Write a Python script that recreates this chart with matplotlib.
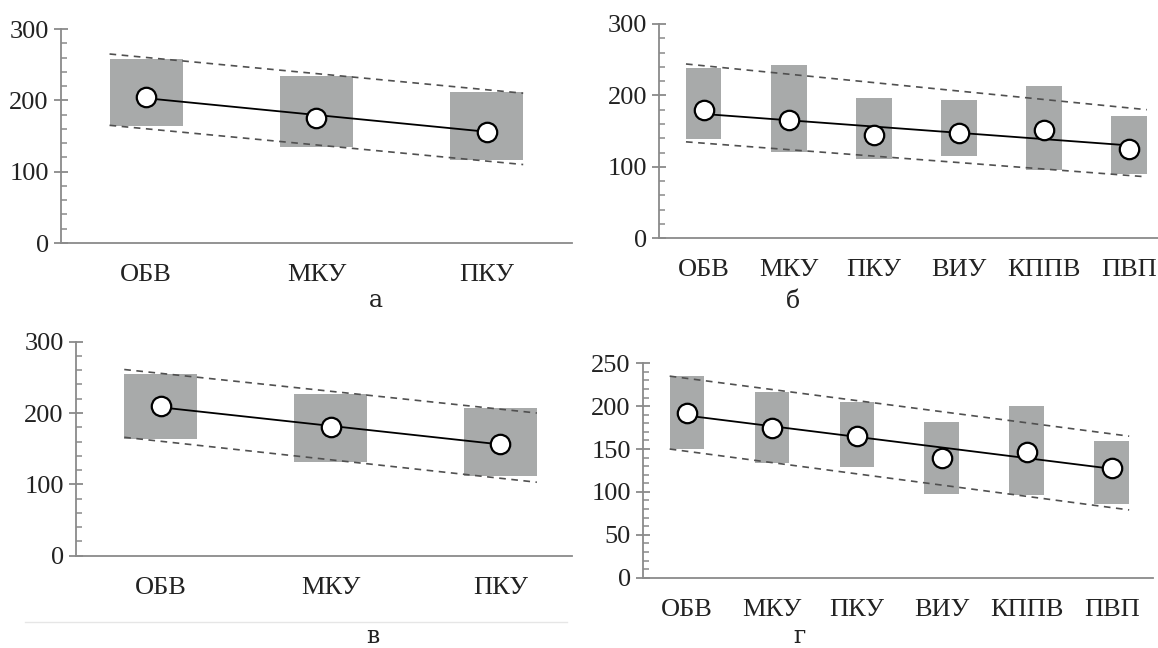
import numpy as np
import matplotlib
matplotlib.use("Agg")
import matplotlib.pyplot as plt
from matplotlib.ticker import MultipleLocator

# categories
cats3 = ["ОБВ", "МКУ", "ПКУ"]
cats6 = ["ОБВ", "МКУ", "ПКУ", "ВИУ", "КППВ", "ПВП"]

# panel а
mean_a = [205, 175, 156]
top_a = [258, 234, 212]
bot_a = [164, 134, 117]
trend_a = [203, 156]
upper_a = [265, 210]
lower_a = [165, 110]

# panel б
mean_b = [180, 166, 144, 147, 151, 125]
top_b = [238, 242, 197, 193, 213, 171]
bot_b = [139, 121, 111, 115, 96, 90]
trend_b = [174, 130]
upper_b = [244, 180]
lower_b = [135, 86]

# panel в
mean_c = [210, 180, 156]
top_c = [255, 227, 207]
bot_c = [164, 131, 112]
trend_c = [208, 156]
upper_c = [261, 200]
lower_c = [166, 103]

# panel г
mean_d = [192.5, 174, 165, 139, 147, 127.5]
top_d = [235, 217, 205, 182, 200, 159]
bot_d = [150.5, 134, 129, 98, 96.5, 86]
trend_d = [189, 127]
upper_d = [235, 165]
lower_d = [150, 79]

BOX = '#a8aaaa'
AXC = '#8a8a8a'
SERIF = ['Liberation Serif', 'DejaVu Serif']


def panel(rect, cats, mean, top, bot, trend, upper, lower, width, xlim, ylim, major, minor):
    ax = fig.add_axes(rect)
    x = np.arange(len(cats))
    heights = np.array(top) - np.array(bot)
    ax.bar(x, heights, bottom=bot, width=width, color=BOX, zorder=1)
    xe = [x[0] - width / 2, x[-1] + width / 2]
    ax.plot(xe, upper, color='#505050', lw=1.2, ls=(0, (4, 3.3)), zorder=2)
    ax.plot(xe, lower, color='#505050', lw=1.2, ls=(0, (4, 3.3)), zorder=2)
    ax.plot([x[0], x[-1]], trend, color='black', lw=1.3, zorder=3)
    ax.plot(x, mean, 'o', mfc='white', mec='black', ms=14, mew=1.6, zorder=4)

    ax.set_xlim(*xlim)
    ax.set_ylim(*ylim)
    ax.set_xticks(x)
    ax.set_xticklabels(cats)
    ax.yaxis.set_major_locator(MultipleLocator(major))
    ax.yaxis.set_minor_locator(MultipleLocator(minor))
    for s in ['top', 'right']:
        ax.spines[s].set_visible(False)
    for s in ['left', 'bottom']:
        ax.spines[s].set_color(AXC)
        ax.spines[s].set_linewidth(1.3)
    ax.tick_params(axis='x', length=0, pad=15, labelsize=19, labelcolor='#222222')
    ax.tick_params(axis='y', which='major', direction='inout', length=9.5, width=1.3,
                   color=AXC, pad=4, labelsize=19, labelcolor='#222222')
    ax.tick_params(axis='y', which='minor', direction='in', length=4, width=1.1, color=AXC)
    for lab in ax.get_xticklabels() + ax.get_yticklabels():
        lab.set_family(SERIF)
    return ax


fig = plt.figure(figsize=(11.58, 6.48), dpi=100)

panel([0.0527, 0.625, 0.441, 0.3302], cats3, mean_a, top_a, bot_a, trend_a, upper_a, lower_a,
      0.43, (-0.5, 2.5), (0, 300), 100, 20)
panel([0.5695, 0.6323, 0.4305, 0.3307], cats6, mean_b, top_b, bot_b, trend_b, upper_b, lower_b,
      0.417, (-0.52, 5.34), (0, 300), 100, 20)
panel([0.0655, 0.1424, 0.4282, 0.3303], cats3, mean_c, top_c, bot_c, trend_c, upper_c, lower_c,
      0.43, (-0.5, 2.42), (0, 300), 100, 20)
panel([0.5552, 0.1085, 0.4408, 0.3309], cats6, mean_d, top_d, bot_d, trend_d, upper_d, lower_d,
      0.41, (-0.52, 5.49), (0, 250), 50, 10)

# faint separator line under panel в
fig.add_artist(plt.Line2D([25 / 1158, 567 / 1158], [1 - 622 / 648] * 2, color='#e6e6e6', lw=1))

for lbl, (px, py) in zip(['а', 'б', 'в', 'г'], [(375.5, 307), (793, 308), (373, 643), (800, 643)]):
    fig.text(px / 1158, 1 - py / 648, lbl, ha='center', va='baseline',
             fontsize=17, family='DejaVu Serif', color='#222222')

fig.savefig('out.png', dpi=100)
